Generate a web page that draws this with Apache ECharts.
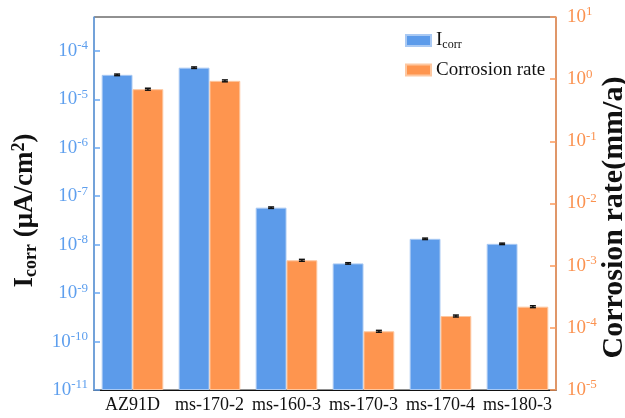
<!DOCTYPE html>
<html>
<head>
<meta charset="utf-8">
<script src="https://cdn.jsdelivr.net/npm/echarts@6/dist/echarts.min.js"></script>
<style>
  html, body { margin: 0; padding: 0; background: #fff; }
  #chart { width: 625px; height: 418px; }
</style>
</head>
<body>
<div id="chart"></div>
<script>
// Samples
const categories = ['AZ91D', 'ms-170-2', 'ms-160-3', 'ms-170-3', 'ms-170-4', 'ms-180-3'];
// Corrosion current density, μA/cm²
const icorr = [3.2e-5, 4.5e-5, 5.8e-8, 4.1e-9, 1.32e-8, 1.04e-8];
const icorrErr = [1.2e-6, 1.6e-6, 2.0e-9, 1.4e-10, 4.5e-10, 3.5e-10];
// Corrosion rate, mm/a
const corrosionRate = [0.69, 0.94, 1.22e-3, 8.8e-5, 1.55e-4, 2.19e-4];
const corrosionRateErr = [0.025, 0.033, 4.3e-5, 3.0e-6, 5.5e-6, 7.5e-6];
// Decade ticks on each value axis
const leftTicks = [1e-11, 1e-10, 1e-9, 1e-8, 1e-7, 1e-6, 1e-5, 1e-4];
const rightTicks = [1e-5, 1e-4, 1e-3, 1e-2, 1e-1, 1, 10];

const BLUE = '#5c9bea';
const ORANGE = '#fe954f';
const LEFT_AXIS = '#6aa8f2';
const RIGHT_AXIS = '#fb9a5c';
const SERIF = '"Liberation Serif", "Times New Roman", serif';

function powLabel(v) {
  const e = Math.round(Math.log10(v));
  return '{b|10}{s|' + e + '}';
}

function errorBars(values, errs) {
  return values.map((v, i) => [i, v - errs[i], v + errs[i]]);
}

// Small black error bar with caps, shifted onto its bar within the group
function makeErrorRender(side) {
  return function (params, api) {
    const x = api.value(0);
    const lo = api.coord([x, api.value(1)]);
    const hi = api.coord([x, api.value(2)]);
    const band = api.size([1, 1])[0];
    const cx = hi[0] + side * band * 0.8 / 4;
    const cap = 3;
    const style = { stroke: '#111', lineWidth: 1.5 };
    return {
      type: 'group',
      children: [
        { type: 'line', shape: { x1: cx, y1: lo[1], x2: cx, y2: hi[1] }, style },
        { type: 'line', shape: { x1: cx - cap, y1: hi[1], x2: cx + cap, y2: hi[1] }, style },
        { type: 'line', shape: { x1: cx - cap, y1: lo[1], x2: cx + cap, y2: lo[1] }, style }
      ]
    };
  };
}

const chart = echarts.init(document.getElementById('chart'), null, { renderer: 'canvas' });

const richTick = (color) => ({
  b: { fontFamily: SERIF, fontSize: 19, color: color },
  s: { fontFamily: SERIF, fontSize: 13, color: color, verticalAlign: 'top', padding: [0, 0, 10, 0] }
});

chart.setOption({
  animation: false,
  backgroundColor: '#fff',
  grid: {
    left: 94, right: 69, top: 17, bottom: 28,
    outerBoundsMode: 'none',
    containLabel: false,
    show: true, borderColor: '#222', borderWidth: 1, backgroundColor: 'transparent'
  },
  legend: {
    data: ['Icorr', 'Corrosion rate'],
    orient: 'vertical',
    left: 400, top: 26,
    itemWidth: 25, itemHeight: 11, itemGap: 10,
    icon: 'rect',
    textStyle: {
      fontFamily: SERIF, fontSize: 19, color: '#111',
      rich: {
        m: { fontFamily: SERIF, fontSize: 19, color: '#111' },
        sub: { fontFamily: SERIF, fontSize: 12, color: '#111', verticalAlign: 'bottom', padding: [8, 0, 0, 0] }
      }
    },
    formatter: (name) => name === 'Icorr' ? '{m|I}{sub|corr}' : name
  },
  xAxis: {
    type: 'category',
    data: categories,
    axisLine: { lineStyle: { color: '#111', width: 1 } },
    axisTick: { alignWithLabel: true, inside: true, length: 5, lineStyle: { color: '#111' } },
    axisLabel: { fontFamily: SERIF, fontSize: 18, color: '#111', margin: 6, interval: 0 }
  },
  yAxis: [
    {
      type: 'log',
      logBase: 10,
      min: 1e-11,
      max: 5e-4,
      startValue: 1e-11,
      position: 'left',
      name: '{m|I}{sub|corr}{m| (μA/cm}{sup|2}{m|)}',
      nameLocation: 'middle',
      nameRotate: 90,
      nameGap: 54,
      nameMoveOverlap: false,
      nameTextStyle: {
        rich: {
          m: { fontFamily: SERIF, fontSize: 27, fontWeight: 'bold', color: '#111' },
          sub: { fontFamily: SERIF, fontSize: 18, fontWeight: 'bold', color: '#111', verticalAlign: 'bottom', padding: [12, 0, 0, 0] },
          sup: { fontFamily: SERIF, fontSize: 18, fontWeight: 'bold', color: '#111', verticalAlign: 'top', padding: [0, 0, 12, 0] }
        },
        padding: [0, 14, 0, 0]
      },
      splitLine: { show: false },
      axisLine: { show: true, lineStyle: { color: LEFT_AXIS, width: 1.5 } },
      axisTick: { show: true, inside: true, length: 6, customValues: leftTicks, lineStyle: { color: LEFT_AXIS, width: 1.5 } },
      axisLabel: {
        customValues: leftTicks,
        formatter: powLabel,
        margin: 6,
        rich: richTick('#5e9fee')
      }
    },
    {
      type: 'log',
      logBase: 10,
      min: 1e-5,
      max: 10,
      startValue: 1e-5,
      position: 'right',
      name: 'Corrosion rate(mm/a)',
      nameLocation: 'middle',
      nameRotate: 90,
      nameGap: 43,
      nameMoveOverlap: false,
      nameTextStyle: {
        fontFamily: SERIF, fontSize: 30, fontWeight: 'bold', color: '#111',
        padding: [0, 28, 0, 0]
      },
      splitLine: { show: false },
      axisLine: { show: true, lineStyle: { color: RIGHT_AXIS, width: 1.5 } },
      axisTick: { show: true, inside: true, length: 6, customValues: rightTicks, lineStyle: { color: RIGHT_AXIS, width: 1.5 } },
      axisLabel: {
        customValues: rightTicks,
        formatter: powLabel,
        margin: 11,
        rich: richTick('#fb9250')
      }
    }
  ],
  series: [
    {
      name: 'Icorr',
      type: 'bar',
      yAxisIndex: 0,
      data: icorr,
      barGap: '0%',
      barCategoryGap: '20%',
      itemStyle: { color: BLUE, borderColor: '#a9c9f3', borderWidth: 1 }
    },
    {
      name: 'Corrosion rate',
      type: 'bar',
      yAxisIndex: 1,
      data: corrosionRate,
      barGap: '0%',
      barCategoryGap: '20%',
      itemStyle: { color: ORANGE, borderColor: '#fdc7a0', borderWidth: 1 }
    },
    {
      name: 'Icorr error',
      type: 'custom',
      yAxisIndex: 0,
      data: errorBars(icorr, icorrErr),
      renderItem: makeErrorRender(-1),
      z: 5
    },
    {
      name: 'Corrosion rate error',
      type: 'custom',
      yAxisIndex: 1,
      data: errorBars(corrosionRate, corrosionRateErr),
      renderItem: makeErrorRender(1),
      z: 5
    }
  ]
});
</script>
</body>
</html>
